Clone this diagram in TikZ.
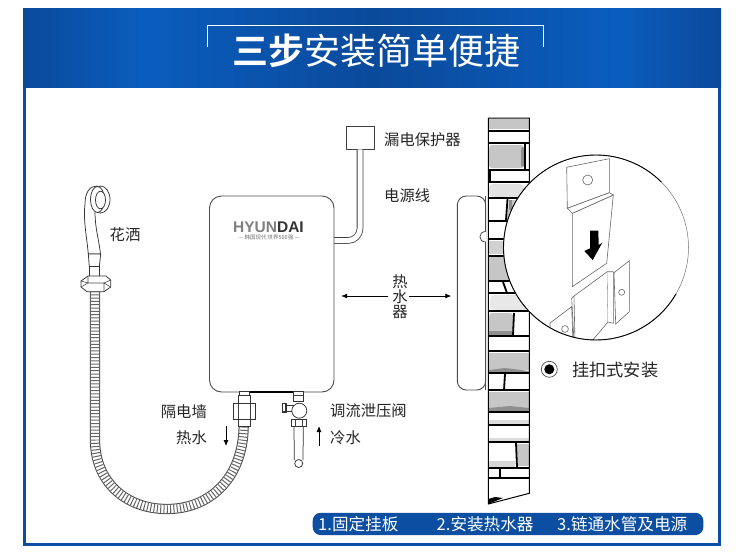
\documentclass[tikz,border=0pt]{standalone}
\usepackage{fontspec}
\newfontfamily\cjk{Noto Sans CJK SC}[BoldFont={Noto Sans CJK SC Bold}]
\setmainfont{Liberation Sans}
\usetikzlibrary{calc,arrows.meta}
\definecolor{bandblue}{HTML}{0B4EA2}
\definecolor{banddeep}{HTML}{0A4A9B}
\definecolor{bandlight}{HTML}{0A5DBE}
\definecolor{brickgray}{HTML}{C6C6C6}
\definecolor{brickshade}{HTML}{8E8E8E}
\pgfdeclarehorizontalshading{bandshade}{100bp}{
  color(0bp)=(banddeep); color(25bp)=(banddeep); color(33.6bp)=(bandlight);
  color(50bp)=(banddeep); color(67.8bp)=(bandlight); color(75bp)=(banddeep); color(100bp)=(banddeep)}
\tikzset{
  lbl/.style={font=\cjk\fontsize{15.3}{15.3}\selectfont,text=black!85,inner sep=0pt},
  outline/.style={draw=black!70,line width=0.9pt,fill=white},
  part/.style={draw=black!80,line width=0.75pt,fill=white},
  mortar/.style={draw=black,line width=1.8pt},
  stone/.style={fill=brickgray,draw=none},
  shade strip/.style={fill=brickshade,draw=none},
  plate/.style={draw=black!60,line width=0.6pt,fill=white},
  steptext/.style={font=\cjk\fontsize{16.6}{16.6}\selectfont,text=white,inner sep=0pt,anchor=west},
  flow/.style={draw=black,line width=0.8pt,-{Latex[length=6pt,width=5pt]}},
}
\begin{document}
\begin{tikzpicture}[x=1pt,y=-1pt]
\useasboundingbox (0,0) rectangle (750,552);
\fill[white] (0,0) rectangle (750,552);

% outer frame and title band
\fill[bandblue] (23,8) rectangle (721,546);
\fill[white] (25.5,87) rectangle (718,543);
\shade[shading=bandshade] (23,8) rectangle (721,87);
\draw[white,line width=1pt] (207,46.5) -- (207,25.5) -- (543,25.5) -- (543,46.5);
\node[inner sep=0pt,text=white,font=\cjk\fontsize{36}{36}\selectfont] (title) at (376,51)
  {\textbf{三步}安装简单便捷};

% leakage protector, mains cable and front view of the heater
\node[draw=black!75,line width=0.9pt,fill=white,minimum width=28pt,minimum height=23pt,inner sep=0pt] (protector) at (360,137.5) {};
\coordinate (cablein) at (334,240.5);
\draw[black!75,line width=6.6pt,rounded corners=12pt] (protector.south) |- (cablein);
\draw[white,line width=5pt,rounded corners=12pt] (protector.south) |- (cablein);
\node[outline,rounded corners=12pt,minimum width=124.5pt,minimum height=196pt,inner sep=0pt] (body) at (271.75,294) {};
\draw[black,line width=1.3pt] (239,392) -- (296,392);
\node[inner sep=0pt,font=\bfseries\fontsize{15.5}{15.5}\selectfont] (logo) at (268.5,227)
  {\textcolor{black!50}{HYUN}\textcolor{black!80}{DAI}};
\node[inner sep=0pt,text=black!55,font=\cjk\fontsize{5.5}{5.5}\selectfont] (slogan) at (269,237.5)
  {— 韩国现代\,世界500强 —};

% shower head, handle and hex nut
\draw[part] (85,204) .. controls (85,192) and (90,186) .. (97,186)
  -- (100,200) -- (95,212) .. controls (95,228) and (99,240) .. (100.5,254)
  -- (88.3,254) .. controls (87,238) and (83,220) .. (85,204) -- cycle;
\draw[part] (100.5,199.5) ellipse [x radius=9.5pt,y radius=13.5pt];
\draw[part] (97.5,199.5) ellipse [x radius=7pt,y radius=13pt];
\draw[part] (100.5,200) ellipse [x radius=5pt,y radius=8.8pt];
\draw[part] (88.3,254) -- (100.7,254) -- (99.3,266.7) -- (89.3,266.7) -- cycle;
\draw[part,line width=1pt] (89.5,266.7) rectangle (99.3,276);

% flexible hose
\coordinate (hosetop) at (95,291);
\coordinate (hoseend) at (243.7,426);
\def\hosepath{(hosetop) -- (95,440) .. controls (95,481) and (125,509) .. (167,509) .. controls (210,509) and (243,478) .. (hoseend)}
\draw[black!70,line width=10.2pt] \hosepath;
\draw[white,line width=8.2pt] \hosepath;
\draw[black!60,line width=8.4pt,dash pattern=on 1pt off 2.3pt] \hosepath;

\draw[part] (81,281) -- (88,276) -- (106,276) -- (110.7,280) -- (110.7,287) -- (104,291.7)
  -- (87,291.7) -- (81,287) -- cycle;
\draw[black!70,line width=0.6pt] (81,281) -- (88,283) -- (104,283) -- (110.7,280)
  (81,287) -- (88,283) (104,283) -- (110.7,287) (88,276) -- (88,283) (104,283) -- (104,291.7);

% hot water fitting
\draw[part] (239,391.7) rectangle (249.3,395);
\draw[part] (238.3,395) rectangle (250,403.5);
\draw[part] (238.3,419) -- (250,419) -- (250,426.7) -- (238.3,426.7) -- cycle;
\draw[part] (233.3,403.5) rectangle (255,419.3);
\draw[black!75,line width=0.7pt] (238.3,403.5) -- (238.3,419.3) (250,403.5) -- (250,419.3);

% cold water fitting and pressure relief valve
\draw[part] (293.3,391.7) rectangle (303.3,401);
\draw[black!75,line width=0.7pt] (293.3,395) -- (303.3,395);
\draw[part] (286,405) rectangle (293,411);
\draw[part,line width=1.2pt] (282.7,403.3) rectangle (286,412);
\draw[part] (291.7,419.3) rectangle (306,426.7);
\draw[black!75,line width=0.7pt] (295,419.3) -- (295,426.7) (302.5,419.3) -- (302.5,426.7);
\node[part,circle,minimum size=15pt,inner sep=0pt] (valve) at (299.3,410.7) {};
\node[part,circle,minimum size=8pt,inner sep=0pt] (pipeend) at (298.7,463.5) {};
\draw[black!80,line width=0.75pt] (294,426.7) -- (294.3,460) (303.3,426.7) -- (303,460);

% brick wall, section view
\begin{scope}
\clip (488.3,118) -- (529.3,118) -- (529.3,493.3) -- (488.3,504) -- cycle;
\fill[white] (488,118) rectangle (530,505);
% grey stones
\fill[stone] (489,119) rectangle (529,129);
\fill[stone,rounded corners=3pt] (489,145) rectangle (524,168);
\fill[shade strip,rounded corners=2pt] (521,147) rectangle (524,167);
\fill[brickgray!50,rounded corners=4pt] (489,184) rectangle (524,197);
\fill[stone] (509,200) -- (529,200) -- (529,219) -- (507,219) -- cycle;
\fill[shade strip] (509,200) rectangle (512,210);
\fill[brickgray!80] (489,241) rectangle (529,254);
\fill[stone] (489,257) rectangle (529,280);
\fill[brickgray!40,rounded corners=4pt] (490,295) rectangle (529,310);
\fill[stone,rounded corners=3pt] (489,313) rectangle (513,335);
\fill[shade strip] (489,331) rectangle (512,335);
\fill[stone] (489,353) rectangle (529,370);
\fill[shade strip] (489,370) -- (505,368) -- (529,371) -- (529,373) -- (489,373) -- cycle;
\fill[stone] (489,392) rectangle (529,408);
\fill[shade strip] (489,408) -- (510,406) -- (529,408) -- (529,412) -- (489,412) -- cycle;
\fill[brickgray!60] (489,420) rectangle (529,424);
\fill[brickgray!60] (489,438) rectangle (529,442);
\fill[stone] (516,444) rectangle (529,466);
\fill[brickgray!70] (489,461) rectangle (515,467);
\fill[black] (488.3,504) -- (503,498) -- (495,497) -- (488.3,499) -- cycle;
% mortar courses
\foreach \y in {130.7,143.3,169.6,181.7,198,220.7,239,255.7,281,293.3,311,336,351,373.3,390,412.3,425,442.3,467.7,478.3}
  \draw[mortar] (488,\y) -- (530,\y);
% vertical joints
\draw[mortar] (525,144) -- (525,169);
\draw[mortar] (490,170) -- (490,181);
\draw[mortar] (507.5,199) -- (506,220);
\draw[mortar] (503,282) -- (507,293);
\draw[mortar] (514,313) -- (513,335);
\draw[mortar] (505,374) -- (504,390);
\draw[mortar] (516,443) -- (517,467);
\draw[mortar] (500,469) -- (500,478);
\end{scope}
\draw[black,line width=1pt] (488.3,118) -- (529.3,118) -- (529.3,493.3) -- (488.3,504) -- cycle;

% side view of the heater
\node[outline,rounded corners=9pt,minimum width=28.4pt,minimum height=194pt,inner sep=0pt] (side) at (471.5,293) {};
\draw[black!70,line width=1pt] (485.9,196) -- (485.9,390);
\draw[black!70,line width=0.8pt,fill=white] (485.7,231.5) .. controls (478,231.5) and (478,242) .. (485.7,242);

% enlarged detail of the hanging bracket
\node[circle,fill=white,draw=none,minimum size=185pt,inner sep=0pt] (detail) at (596,247.5) {};
\begin{scope}
\clip (596,247.5) circle [radius=92.5pt];
\draw[plate] (566.7,167.3) -- (609.3,158.7) -- (609.3,192.7) -- (567.3,208.3) -- cycle;
\draw[plate] (572.3,213.3) -- (572.3,286.7) -- (606.7,263.3) -- (613.3,195) -- cycle;
\draw[plate] (567.3,208.3) -- (609.3,192.7) -- (613.3,195) -- (572.3,213.3) -- cycle;
\draw[plate] (587.7,180) circle [radius=5pt];
\draw[plate] (550,323) -- (571.7,306.7) -- (573,345) -- (550,345) -- cycle;
\draw[plate] (565,329) circle [radius=3.4pt];
\draw[plate] (574,296) -- (607.3,271.7) -- (608,322) -- (591,342) -- (575,342) -- cycle;
\draw[plate] (571.7,298) -- (574,296) (571.7,298) -- (574,342);
\draw[plate] (607.3,271.7) -- (613.3,271.7) -- (613.3,323.3) -- (608,322);
\draw[plate] (614,272.7) -- (629.3,260.7) -- (629.3,311.7) -- (615.7,324) -- cycle;
\draw[plate] (621.7,292.3) circle [radius=3pt];
\fill[black] (590,230.7) -- (598.3,230.7) -- (598.7,245) -- (602.3,242.7) -- (592.7,260)
  -- (584.3,251) -- (590,248.3) -- cycle;
\end{scope}
% rim of the detail circle: fine on the right, heavier elsewhere
\draw[black!55,line width=0.5pt] plot[domain=0:360,samples=120] ({596+92.5*cos(\x)},{247.5+92.5*sin(\x)});
\draw[black,line width=0.9pt] plot[domain=30:315,samples=100] ({596+92.5*cos(\x)},{247.5+92.5*sin(\x)});

% labels
\node[lbl,anchor=west] (rcd) at (384,140) {漏电保护器};
\node[lbl,anchor=west] (cablelabel) at (384,196) {电源线};
\node[lbl] (showerlabel) at (125,235) {花洒};
\node[lbl,anchor=east] (walllabel) at (207,412) {隔电墙};
\node[lbl,anchor=east] (hotlabel) at (207,438) {热水};
\node[lbl,anchor=west] (valvelabel) at (330,411) {调流泄压阀};
\node[lbl,anchor=west] (coldlabel) at (330,438) {冷水};
\node[lbl,align=center] (heaterlabel) at (400,296.7) {热\\[0pt]水\\[0pt]器};
\node[lbl,anchor=west,font=\cjk\fontsize{17.2}{17.2}\selectfont] (mountlabel) at (572,370) {挂扣式安装};

% dimension arrows and flow directions
\draw[flow,shorten <=4.5pt,shorten >=6.7pt] (heaterlabel.west |- 0,296) -- (body.east |- 0,296);
\draw[flow,shorten <=1.5pt,shorten >=5.6pt] (heaterlabel.east |- 0,296) -- (side.west |- 0,296);
\coordinate (hottop) at (226,426);
\coordinate (hotbottom) at (226,446);
\coordinate (coldbottom) at (319,446);
\coordinate (coldtop) at (319,426);
\draw[flow] (hottop) -- (hotbottom);
\draw[flow] (coldbottom) -- (coldtop);

% mounting type marker
\node[circle,draw=black!70,line width=0.7pt,fill=white,minimum size=16pt,inner sep=0pt] (radio) at (549.3,369.3) {};
\fill[black] (radio.center) circle [radius=5pt];

% installation steps
\node[fill=bandblue,rounded corners=8pt,minimum width=390.6pt,minimum height=22.3pt,inner sep=0pt] (stepbar) at (508,523.9) {};
\node[steptext] (stepone) at (318,523.9) {1.固定挂板};
\node[steptext] (steptwo) at (436.5,523.9) {2.安装热水器};
\node[steptext] (stepthree) at (557,523.9) {3.链通水管及电源};
\end{tikzpicture}
\end{document}
